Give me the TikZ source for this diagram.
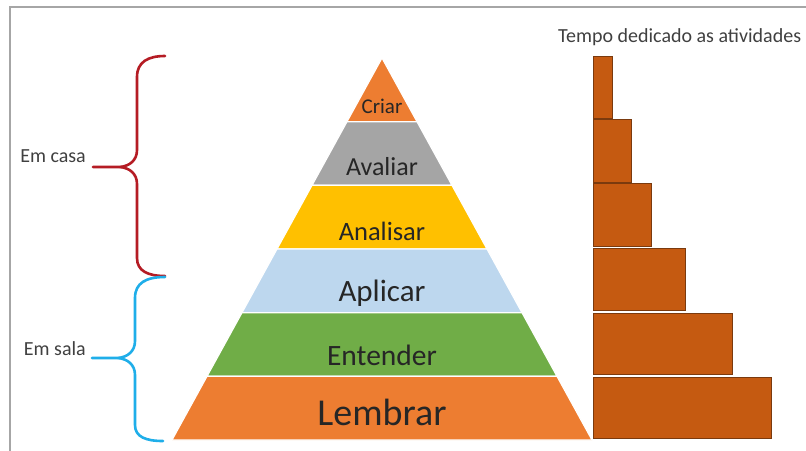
\documentclass[tikz,border=0pt]{standalone}
\usepackage{fontspec}
\setmainfont{Carlito}
\definecolor{criarc}{HTML}{ED7D31}
\definecolor{avaliarc}{HTML}{A5A5A5}
\definecolor{analisarc}{HTML}{FFC000}
\definecolor{aplicarc}{HTML}{BDD7EE}
\definecolor{entenderc}{HTML}{70AD47}
\definecolor{lembrarc}{HTML}{ED7D31}
\definecolor{barfill}{HTML}{C55A11}
\definecolor{baredge}{HTML}{7A3A0E}
\definecolor{lvltext}{HTML}{262626}
\definecolor{sidetext}{HTML}{404040}
\definecolor{framegray}{HTML}{A6A6A6}
\definecolor{casared}{HTML}{B51C24}
\definecolor{salablue}{HTML}{1FAEE9}
\begin{document}
\begin{tikzpicture}[x=1pt,y=-1pt,
  layer/.style={draw=white,line width=1.2pt},
  bar/.style={fill=barfill,draw=baredge,line width=0.9pt},
  lvl/.style={text=lvltext,inner sep=0pt,anchor=base},
  side/.style={text=sidetext,inner sep=0pt,anchor=base east,font=\fontsize{20}{24}\selectfont},
  brace/.style={line width=2.6pt,line cap=round,line join=round}]
\useasboundingbox (0,0) rectangle (806,450);
\fill[white] (0,0) rectangle (806,450);
% outer frame (left and top edges)
\draw[framegray,line width=1.6pt] (10,452) -- (10,7) -- (808,7);

% pyramid, six layers of equal height
\path[layer,fill=criarc]    (382,58) -- (417,121.67) -- (347,121.67) -- cycle;
\path[layer,fill=avaliarc]  (347,121.67) -- (417,121.67) -- (452,185.33) -- (312,185.33) -- cycle;
\path[layer,fill=analisarc] (312,185.33) -- (452,185.33) -- (487,249) -- (277,249) -- cycle;
\path[layer,fill=aplicarc]  (277,249) -- (487,249) -- (522,312.67) -- (242,312.67) -- cycle;
\path[layer,fill=entenderc] (242,312.67) -- (522,312.67) -- (557,376.33) -- (207,376.33) -- cycle;
\path[layer,fill=lembrarc]  (207,376.33) -- (557,376.33) -- (592,440) -- (172,440) -- cycle;

\node[lvl,font=\fontsize{21}{25}\selectfont] (criar) at (382,113) {Criar};
\node[lvl,font=\fontsize{26}{30}\selectfont] (avaliar) at (382,175) {Avaliar};
\node[lvl,font=\fontsize{26.5}{30}\selectfont] (analisar) at (382,240) {Analisar};
\node[lvl,font=\fontsize{31}{36}\selectfont] (aplicar) at (382,301.5) {Aplicar};
\node[lvl,font=\fontsize{29.5}{34}\selectfont] (entender) at (382,365) {Entender};
\node[lvl,font=\fontsize{38}{44}\selectfont] (lembrar) at (382,425) {Lembrar};

% time bars
\node[anchor=base west,text=sidetext,inner sep=0pt,font=\fontsize{20}{24}\selectfont] (titulo) at (558,42) {Tempo dedicado as atividades};
\path[bar] (593,56)  rectangle (612,118);
\path[bar] (593,119.5) rectangle (631,182);
\path[bar] (593,183.5) rectangle (651,246);
\path[bar] (593,248) rectangle (685,310);
\path[bar] (593,313) rectangle (732,374);
\path[bar] (593,377) rectangle (771,438);

% braces
\draw[brace,casared] (165,56) .. controls (148,56) and (137,62) .. (137,77) -- (137,150)
  .. controls (137,160) and (130,166) .. (120,167) -- (93,167);
\draw[brace,casared] (120,167) .. controls (130,168) and (137,174) .. (137,184) -- (137,258)
  .. controls (137,271) and (148,276) .. (165,276);
\draw[brace,salablue] (165,277) .. controls (146,277) and (135,283) .. (135,298) -- (135,341)
  .. controls (135,351) and (128,357) .. (118,358) -- (92,358);
\draw[brace,salablue] (118,358) .. controls (128,359) and (135,365) .. (135,375) -- (135,425)
  .. controls (135,437) and (146,441) .. (163,441);

\node[side] (casa) at (86,162) {Em casa};
\node[side] (sala) at (86,355) {Em sala};
\end{tikzpicture}
\end{document}
